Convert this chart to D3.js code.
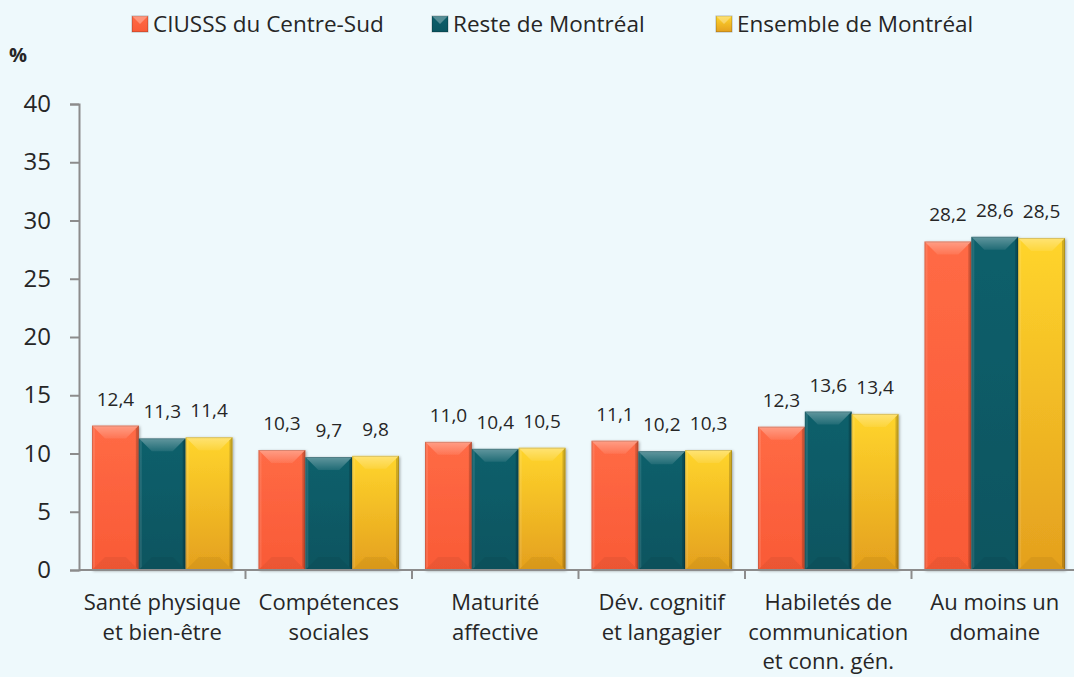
<!DOCTYPE html>
<html>
<head>
<meta charset="utf-8">
<script src="https://cdn.jsdelivr.net/npm/d3@7/dist/d3.min.js"></script>
<style>
  body { margin: 0; background: #eef9fc; }
  svg { display: block; font-family: "Open Sans", sans-serif; }
</style>
</head>
<body>
<script>
// categories (each label split on lines) and series
var categories = ["Santé physique|et bien-être", "Compétences|sociales", "Maturité|affective",
  "Dév. cognitif|et langagier", "Habiletés de|communication|et conn. gén.", "Au moins un|domaine"];
var seriesNames = ["CIUSSS du Centre-Sud", "Reste de Montréal", "Ensemble de Montréal"];
var centreSud = [12.4, 10.3, 11.0, 11.1, 12.3, 28.2];
var resteMtl = [11.3, 9.7, 10.4, 10.2, 13.6, 28.6];
var ensembleMtl = [11.4, 9.8, 10.5, 10.3, 13.4, 28.5];
var yTicks = [0, 5, 10, 15, 20, 25, 30, 35, 40];

var W = 1074, H = 677;
var colors = [
  {top: "#ff6a45", bot: "#f95a36"},
  {top: "#0d5f6b", bot: "#0a5560"},
  {top: "#ffd52c", bot: "#e4a01e"}
];

var svg = d3.select("body").append("svg")
  .attr("width", W).attr("height", H);
svg.append("rect").attr("width", W).attr("height", H).attr("fill", "#eef9fc");

var defs = svg.append("defs");
colors.forEach(function(c, i) {
  var g = defs.append("linearGradient").attr("id", "grad" + i)
    .attr("x1", 0).attr("y1", 0).attr("x2", 0).attr("y2", 1);
  g.append("stop").attr("offset", "0%").attr("stop-color", c.top);
  g.append("stop").attr("offset", "100%").attr("stop-color", c.bot);
});
// top facet highlight fades downward
var hl = defs.append("linearGradient").attr("id", "hl")
  .attr("x1", 0).attr("y1", 0).attr("x2", 0).attr("y2", 1);
hl.append("stop").attr("offset", "0%").attr("stop-color", "#fff").attr("stop-opacity", 0.35);
hl.append("stop").attr("offset", "100%").attr("stop-color", "#fff").attr("stop-opacity", 0.08);
var shadow = defs.append("filter").attr("id", "shadow")
  .attr("x", "-20%").attr("y", "-10%").attr("width", "140%").attr("height", "120%");
shadow.append("feDropShadow").attr("dx", 1).attr("dy", 1).attr("stdDeviation", 1.5)
  .attr("flood-color", "#000").attr("flood-opacity", 0.35);

// scales
var x = d3.scaleBand().domain(categories).range([79, 1078]).padding(0);
var xs = d3.scaleBand().domain(seriesNames).range([13, x.bandwidth() - 13]).padding(0);
var y = d3.scaleLinear().domain([0, 40]).range([570, 104]);

// y axis
var yAxis = svg.append("g").attr("transform", "translate(79,0)")
  .call(d3.axisLeft(y).tickValues(yTicks).tickSize(9).tickPadding(19));
yAxis.select(".domain").attr("stroke", "#8c8c8c").attr("stroke-width", 2);
yAxis.selectAll(".tick line").attr("stroke", "#8c8c8c").attr("stroke-width", 2);
yAxis.selectAll(".tick text").attr("font-family", "Open Sans").attr("font-size", 24)
  .attr("fill", "#262626");

svg.append("text").attr("x", 9).attr("y", 62).attr("font-size", 20)
  .attr("font-weight", "bold").attr("fill", "#262626").text("%");

// bars
var series = [centreSud, resteMtl, ensembleMtl];
var bars = [];
series.forEach(function(vals, si) {
  vals.forEach(function(v, ci) {
    bars.push({s: si, c: categories[ci], v: v});
  });
});

var bg = svg.selectAll("g.bar").data(bars).enter().append("g").attr("class", "bar");
bg.each(function(d) {
  var g = d3.select(this);
  var x0 = x(d.c) + xs(seriesNames[d.s]), w = xs.bandwidth();
  var x1 = x0 + w, y0 = y(d.v), y1 = y(0);
  var dh = 13, dw = 13;
  g.append("rect").attr("x", x0).attr("y", y0).attr("width", w).attr("height", y1 - y0)
    .attr("fill", "url(#grad" + d.s + ")").attr("filter", "url(#shadow)");
  // top bevel facet
  g.append("path").attr("d", "M" + x0 + "," + y0 + "L" + x1 + "," + y0 + "L" + (x1 - dw) + "," + (y0 + dh) +
      "L" + (x0 + dw) + "," + (y0 + dh) + "Z")
    .attr("fill", "url(#hl)");
  // bottom facet
  g.append("path").attr("d", "M" + x0 + "," + y1 + "L" + x1 + "," + y1 + "L" + (x1 - dw) + "," + (y1 - dh) +
      "L" + (x0 + dw) + "," + (y1 - dh) + "Z")
    .attr("fill", "#000").attr("opacity", 0.05);
  // side facets
  g.append("path").attr("d", "M" + x0 + "," + y0 + "L" + (x0 + 3) + "," + (y0 + 3) + "L" + (x0 + 3) + "," + (y1 - 3) +
      "L" + x0 + "," + y1 + "Z").attr("fill", "#fff").attr("opacity", 0.1);
  g.append("path").attr("d", "M" + x1 + "," + y0 + "L" + (x1 - 3) + "," + (y0 + 3) + "L" + (x1 - 3) + "," + (y1 - 3) +
      "L" + x1 + "," + y1 + "Z").attr("fill", "#000").attr("opacity", 0.18);
  g.append("rect").attr("x", x0 + 0.5).attr("y", y0 + 0.5).attr("width", w - 1).attr("height", y1 - y0 - 1)
    .attr("fill", "none").attr("stroke", "#000").attr("stroke-opacity", 0.15);
  // value label
  g.append("text").attr("x", x0 + w / 2).attr("y", y0 - 20).attr("text-anchor", "middle")
    .attr("font-size", 19).attr("fill", "#262626")
    .text(d3.format(".1f")(d.v).replace(".", ","));
});

// x axis
var xAxis = svg.append("g").attr("transform", "translate(0,570)");
xAxis.append("line").attr("x1", 79).attr("x2", W).attr("stroke", "#8c8c8c").attr("stroke-width", 2);
xAxis.selectAll("line.tk").data(categories.slice(1)).enter().append("line").attr("class", "tk")
  .attr("x1", function(d) { return x(d); }).attr("x2", function(d) { return x(d); })
  .attr("y1", 0).attr("y2", 9).attr("stroke", "#8c8c8c").attr("stroke-width", 2);
xAxis.selectAll("text.cat").data(categories).enter().append("text").attr("class", "cat")
  .attr("text-anchor", "middle").attr("font-size", 22).attr("fill", "#262626")
  .each(function(d) {
    var t = d3.select(this);
    d.split("|").forEach(function(line, i) {
      t.append("tspan").attr("x", x(d) + x.bandwidth() / 2).attr("y", 40 + i * 29.5).text(line);
    });
  });

// legend
var legX = [132, 432, 716];
var leg = svg.selectAll("g.leg").data(seriesNames).enter().append("g").attr("class", "leg")
  .attr("transform", function(d, i) { return "translate(" + legX[i] + ",16)"; });
leg.append("rect").attr("width", 16).attr("height", 16)
  .attr("fill", function(d, i) { return "url(#grad" + i + ")"; })
  .attr("stroke", "#000").attr("stroke-opacity", 0.25);
leg.append("path").attr("d", "M0,0L16,0L8,8Z").attr("fill", "#fff").attr("opacity", 0.3);
leg.append("text").attr("x", 21).attr("y", 16).attr("font-size", 22.5).attr("fill", "#262626")
  .text(function(d) { return d; });
</script>
</body>
</html>
